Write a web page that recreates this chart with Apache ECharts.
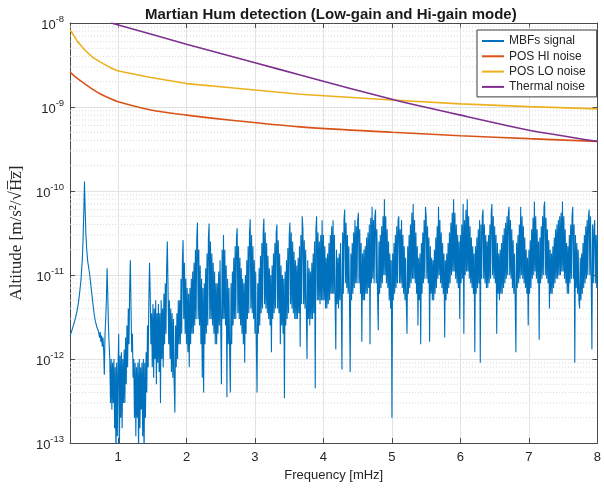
<!DOCTYPE html>
<html><head><meta charset="utf-8">
<script src="https://cdn.jsdelivr.net/npm/echarts@6/dist/echarts.min.js"></script>
<style>html,body{margin:0;padding:0;background:#fff}#c{width:604px;height:488px}</style>
</head><body><div id="c"></div>
<script>
// ---- data ----
// MBFs signal: one value per frequency bin, bins start at 0.30 mHz, step 0.01 mHz (one row = 0.1 mHz)
const sigStart = 0.30;
const sigStep = 0.01;
const mbfSignal = [
  1.9e-12, 2e-12, 2.1e-12, 2.2e-12, 2.4e-12, 2.5e-12, 2.7e-12, 2.9e-12, 3.1e-12, 3.4e-12,
  3.7e-12, 4.1e-12, 4.6e-12, 5.3e-12, 6.2e-12, 7.4e-12, 9e-12, 1.2e-11, 1.6e-11, 2.8e-11,
  5.5e-11, 1.3e-10, 6e-11, 3.2e-11, 2.2e-11, 1.7e-11, 1.4e-11, 1.25e-11, 1.1e-11, 9.5e-12,
  8e-12, 6.8e-12, 5.7e-12, 4.8e-12, 4.1e-12, 3.5e-12, 3.1e-12, 2.8e-12, 2.6e-12, 2.4e-12,
  2.3e-12, 2.2e-12, 2e-12, 1.8e-12, 2.1e-12, 1.6e-12, 1.9e-12, 1.4e-12, 1.8e-12, 1.3e-12,
  6.5e-13, 2e-12, 3e-12, 5e-12, 1.2e-11, 6e-12, 2.5e-12, 1.5e-12, 1e-12, 3e-13,
  1e-12, 2.5e-13, 9e-13, 3e-13, 1e-12, 1.5e-13, 8e-13, 6e-14, 9e-13, 1.2e-13,
  8e-13, 2e-12, 7e-14, 1.1e-12, 2e-13, 1.2e-12, 1.5e-13, 1e-12, 3e-13, 1.3e-12,
  3e-13, 1.8e-12, 5e-13, 2.5e-12, 8e-13, 4e-12, 1.5e-12, 7e-12, 1.5e-11, 4e-12,
  1.2e-12, 2e-12, 6e-13, 1e-12, 2e-13, 9e-13, 1.2e-13, 8e-13, 2e-13, 9e-13,
  7e-14, 1e-12, 1.5e-13, 8e-13, 2.5e-13, 9e-13, 1.2e-13, 1e-12, 6e-14, 9e-13,
  2e-13, 1.2e-12, 4e-13, 2.5e-12, 8e-13, 5e-12, 1.4e-11, 6e-12, 1.5e-12, 3.5e-12,
  8e-13, 4.5e-12, 6e-13, 4e-12, 1e-12, 5e-12, 5e-13, 3.5e-12, 9e-13, 4.5e-12,
  7e-13, 3.5e-12, 3e-13, 5e-12, 1e-12, 4e-12, 8e-13, 6e-12, 1.5e-12, 8e-12,
  2e-12, 1.2e-11, 2.5e-11, 7e-12, 1.5e-12, 5e-12, 1e-12, 4e-12, 7e-13, 3.5e-12,
  6e-13, 3e-12, 5e-13, 2.3e-13, 2.5e-12, 8e-13, 3.5e-12, 1e-12, 5e-12, 1.5e-12,
  5e-12, 1.5e-12, 9e-12, 2e-12, 1.5e-11, 2.6e-11, 3e-12, 1.4e-11, 2e-12, 9e-12,
  1.5e-12, 7e-12, 1.2e-12, 6e-12, 8e-13, 7e-12, 1.5e-12, 9e-12, 2e-12, 1.1e-11,
  2e-12, 1.4e-11, 2.5e-12, 2e-11, 3e-12, 2.8e-11, 4.2e-11, 3e-12, 2e-11, 2.5e-12,
  1.3e-11, 1.5e-12, 9e-12, 6e-13, 7e-12, 4e-13, 8e-12, 1.5e-12, 1.2e-11, 2e-12,
  1.8e-11, 2.5e-12, 2.8e-11, 4.1e-11, 3e-12, 2.5e-11, 3e-12, 1.8e-11, 2.5e-12, 1.4e-11,
  2e-12, 1.1e-11, 1.5e-12, 8e-12, 1.5e-12, 8e-12, 2e-12, 1.1e-11, 2.5e-12, 1.5e-11,
  2.5e-12, 5e-13, 2e-11, 3e-12, 3e-11, 3e-12, 2e-11, 2.5e-12, 1.3e-11, 3.5e-13,
  9e-12, 1.5e-12, 7e-12, 1.2e-12, 4e-13, 8e-12, 1.5e-12, 1.1e-11, 2.5e-12, 1.6e-11,
  3e-12, 2.2e-11, 3e-12, 2.8e-11, 3.6e-11, 3.5e-12, 2.2e-11, 3e-12, 1.6e-11, 2.5e-12,
  1.2e-11, 2e-12, 9e-12, 1.5e-12, 8e-12, 9e-13, 1e-11, 2e-12, 1.5e-11, 3e-12,
  2.2e-11, 3.5e-12, 3.2e-11, 4.6e-11, 4e-12, 3e-11, 3.5e-12, 2.2e-11, 3e-12, 1.5e-11,
  2e-12, 1.1e-11, 1.5e-12, 4e-13, 8e-12, 2e-12, 1.2e-11, 2.5e-12, 1.7e-11, 3.5e-12,
  2.4e-11, 4e-12, 3.3e-11, 4.7e-11, 4.5e-12, 3.2e-11, 4e-12, 2.4e-11, 3.5e-12, 1.7e-11,
  3e-12, 1.2e-11, 2.5e-12, 1e-11, 1.2e-12, 1.3e-11, 3e-12, 1.8e-11, 3.5e-12, 2.4e-11,
  4e-12, 3.2e-11, 4e-11, 4e-12, 2.6e-11, 3.5e-12, 1.8e-11, 1.5e-12, 1.3e-11, 2.5e-12,
  1e-11, 2e-12, 9e-12, 3.4e-13, 1.1e-11, 2.5e-12, 1.5e-11, 3e-12, 2.1e-11, 3.5e-12,
  3e-11, 4.2e-11, 4.5e-12, 3.2e-11, 4e-12, 2.5e-11, 3.5e-12, 1.9e-11, 3e-12, 1.5e-11,
  3e-12, 1.3e-11, 3e-12, 1.6e-11, 3.5e-12, 2.2e-11, 1.4e-12, 3e-11, 4.5e-12, 5e-11,
  3.5e-11, 4.5e-12, 2.6e-11, 4e-12, 2e-11, 3.5e-12, 1e-12, 1.5e-11, 3e-12, 1.2e-11,
  2.5e-12, 1.1e-11, 3e-12, 1.4e-11, 3e-12, 1.8e-11, 3.5e-12, 2.5e-11, 4.5e-13, 3.5e-11,
  5e-11, 5e-12, 3.2e-11, 5e-12, 2.5e-11, 4.5e-12, 3e-11, 5e-12, 4.5e-11, 5e-12,
  3e-11, 5e-12, 2.2e-11, 4e-12, 1.6e-11, 4e-12, 1.8e-11, 4.5e-12, 2.4e-11, 5e-12,
  3e-11, 6e-12, 3.8e-11, 6e-12, 4.5e-11, 6e-12, 3e-11, 5e-12, 1.3e-12, 2e-11,
  4.5e-12, 1.6e-11, 4e-12, 1.8e-11, 5e-12, 2.4e-11, 5e-12, 7.5e-13, 3.2e-11, 6e-12,
  4.5e-11, 6e-11, 8e-12, 4.2e-11, 7e-12, 3e-11, 6e-12, 2.2e-11, 5e-12, 7e-13,
  1.8e-11, 5e-12, 2.4e-11, 6e-12, 3.2e-11, 7e-12, 4.5e-11, 8e-12, 3.8e-11, 8e-12,
  4.5e-11, 5.5e-11, 8e-12, 3.5e-11, 6e-12, 2.4e-11, 1.6e-12, 1.8e-11, 5e-12, 2e-11,
  5e-12, 2.2e-11, 6e-12, 2.8e-11, 6e-12, 3.2e-11, 7e-12, 4e-11, 1.5e-12, 4.8e-11,
  8e-12, 6.5e-11, 9e-12, 4.5e-11, 8e-12, 5e-11, 6e-11, 8e-12, 3.5e-11, 6e-12,
  2.2e-12, 2.5e-11, 6e-12, 3e-11, 7e-12, 3.8e-11, 8e-12, 5e-11, 1e-11, 8e-11,
  1e-11, 5e-11, 8e-12, 3.5e-11, 7e-12, 2.5e-11, 5e-12, 1.8e-11, 4e-12, 1.5e-11,
  2e-13, 1.8e-11, 5e-12, 2.4e-11, 6e-12, 3e-11, 7e-12, 3.8e-11, 8e-12, 4.5e-11,
  5e-11, 8e-12, 3.5e-11, 8e-12, 4.5e-11, 7e-12, 3e-11, 6e-12, 2.2e-11, 5e-12,
  1.6e-11, 4.5e-12, 2e-12, 2.2e-11, 6e-12, 3e-11, 7e-12, 4e-11, 8e-12, 5.5e-11,
  9e-12, 7e-11, 9e-12, 4.5e-11, 8e-12, 3.2e-11, 6e-12, 2.2e-11, 2.5e-12, 1.6e-11,
  5e-12, 1.8e-11, 1.5e-12, 2.4e-11, 6e-12, 3.2e-11, 8e-12, 4.5e-11, 9e-12, 6.5e-11,
  5e-11, 9e-12, 3.8e-11, 8e-12, 2.8e-11, 1.6e-12, 2.2e-11, 6e-12, 1.6e-11, 5e-12,
  1.5e-11, 5e-12, 2e-11, 6e-12, 2.8e-11, 7e-12, 3.8e-11, 9e-12, 6.5e-11, 1e-11,
  4.5e-11, 8e-12, 3.2e-11, 7e-12, 2.4e-11, 6e-12, 1.8e-11, 1.8e-12, 1.5e-11, 5e-12,
  1.8e-11, 6e-12, 2.4e-11, 7e-12, 3.2e-11, 8e-12, 4.2e-11, 1e-11, 5.5e-11, 1.1e-11,
  8e-11, 1.1e-11, 5.5e-11, 9e-12, 4e-11, 8e-12, 3e-11, 7e-12, 2.5e-11, 3e-12,
  3e-11, 8e-12, 4e-11, 9e-12, 7e-11, 2e-12, 4.5e-11, 1e-11, 6e-11, 1.1e-11,
  8e-11, 1.1e-11, 5e-11, 9e-12, 3.8e-11, 8e-12, 2.8e-11, 7e-12, 2.2e-11, 6e-12,
  1.8e-11, 1.2e-12, 2.2e-11, 6e-12, 2.8e-11, 7e-12, 3.5e-11, 8e-12, 4.5e-11, 9e-13,
  4e-11, 9e-12, 5e-11, 6e-11, 9e-12, 4e-11, 8e-12, 3e-11, 7e-12, 2.5e-11,
  7e-12, 3e-11, 8e-12, 4e-11, 9e-12, 5.5e-11, 7e-11, 1e-11, 5e-11, 9e-12,
  3.8e-11, 8e-12, 3e-11, 2e-12, 2.4e-11, 6e-12, 1.8e-11, 5e-12, 2e-11, 6e-12,
  2.4e-11, 6e-12, 3e-11, 7e-12, 3.6e-11, 8e-12, 4.2e-11, 9e-12, 5e-11, 1e-11,
  5.5e-11, 6.5e-11, 1e-11, 4.5e-11, 9e-12, 3.5e-11, 7e-12, 2.6e-11, 6e-12, 1.8e-11,
  5e-12, 1.2e-12, 2.4e-11, 7e-12, 3e-11, 8e-12, 4e-11, 9e-12, 6.5e-11, 1e-11,
  5e-11, 9e-12, 3.8e-11, 8e-12, 2.8e-11, 7e-12, 2e-11, 6e-12, 1.6e-11, 2.5e-12,
  2e-11, 6e-12, 2.6e-11, 7e-12, 3.5e-11, 9e-12, 4.8e-11, 1e-11, 7.5e-11, 1.1e-11,
  5e-11, 9e-12, 3.5e-11, 8e-12, 2.5e-11, 1.7e-12, 2.8e-11, 8e-12, 3.8e-11, 9e-12,
  5e-11, 1e-11, 6.5e-11, 7.5e-11, 1e-11, 4.8e-11, 9e-12, 3.5e-11, 8e-12, 2.6e-11,
  4e-12, 2e-11, 6e-12, 1.8e-11, 6e-12, 2.2e-11, 7e-12, 2.8e-11, 8e-12, 3.5e-11,
  9e-12, 4e-11, 9e-12, 4.5e-11, 1e-11, 5e-11, 1e-11, 5.5e-11, 1.1e-11, 7.5e-11,
  1.1e-11, 5e-11, 9e-12, 3.5e-11, 8e-12, 2.4e-11, 6e-12, 2.2e-11, 6e-12, 3e-11,
  8e-12, 4e-11, 9e-12, 5e-11, 6.5e-11, 9e-12, 4e-11, 9e-13, 3e-11, 7e-12,
  2.4e-11, 6e-12, 2e-11, 5e-12, 4e-12, 1.6e-11, 5e-12, 1.8e-11, 6e-12, 2.4e-11,
  7e-12, 3e-11, 8e-12, 3.8e-11, 9e-12, 4.5e-11, 1e-11, 5e-11, 6e-11, 1e-11,
  5e-11, 9e-12, 1.3e-12, 4e-11, 8e-12, 3.5e-11, 4.5e-11, 8e-12, 3e-11, 7e-12,
  3e-11
];
const hiFreq  = [0.3, 0.4, 0.51, 0.63, 0.75, 0.87, 0.99, 1.48, 2.0, 2.69, 3.66, 5.0, 6.0, 7.0, 8.0];
const hiNoise = [2.6e-9, 2.2e-9, 1.9e-9, 1.62e-9, 1.42e-9, 1.28e-9, 1.16e-9, 9.2e-10, 8e-10, 6.9e-10, 5.8e-10, 5e-10, 4.55e-10, 4.2e-10, 3.9e-10];
const loFreq  = [0.3, 0.41, 0.51, 0.63, 0.75, 0.87, 0.99, 1.48, 2.0, 2.69, 3.66, 5.0, 6.0, 7.0, 8.0];
const loNoise = [8.3e-9, 6e-9, 4.8e-9, 3.9e-9, 3.4e-9, 3e-9, 2.7e-9, 2.25e-9, 1.9e-9, 1.68e-9, 1.42e-9, 1.21e-9, 1.09e-9, 1.01e-9, 9.5e-10];
const thFreq  = [0.9, 2.0, 3.0, 3.66, 5.04, 6.0, 7.0, 8.0];
const thNoise = [1e-8, 5.6e-9, 3.37e-9, 2.4e-9, 1.21e-9, 8e-10, 5.3e-10, 3.9e-10];
const seriesNames = ['MBFs signal', 'POS HI noise', 'POS LO noise', 'Thermal noise'];
const seriesColors = ['#0072BD', '#D95319', '#EDB120', '#7E2F8E'];
const minorMultipliers = [2, 3, 4, 5, 6, 7, 8, 9];
const minorDecades = [-13, -12, -11, -10, -9];
const xRange = [0.3, 8];

// ---- build ----
const pairs = (fs, vs) => fs.map((f, i) => [f, vs[i]]);
const sigData = mbfSignal.map((v, i) => [+(sigStart + i * sigStep).toFixed(2), v]);
const minorValues = [];
minorDecades.forEach(d => minorMultipliers.forEach(m => minorValues.push(m * Math.pow(10, d))));

const font = "'Liberation Sans', Arial, Helvetica, sans-serif";
const serif = "'Liberation Serif', 'DejaVu Serif', 'Times New Roman', serif";
const axisColor = '#4a4a4a';
const textColor = '#262626';

const xBase = {
  type: 'value', min: xRange[0], max: xRange[1], splitNumber: 8,
  axisLine: { show: true, onZero: false, lineStyle: { color: axisColor, width: 1 } },
  axisTick: { show: true, inside: true, length: 5, lineStyle: { color: axisColor } }
};
const yBase = {
  type: 'log', logBase: 10, min: 1e-13, max: 1e-8,
  axisLine: { show: true, onZero: false, lineStyle: { color: axisColor, width: 1 } },
  axisTick: { show: true, inside: true, length: 5, lineStyle: { color: axisColor } }
};

const minorSeries = minorValues.map(v => ({
  type: 'line', data: [[xRange[0], v], [xRange[1], v]], z: 1, silent: true,
  symbol: 'none', showSymbol: false, animation: false,
  lineStyle: { type: [1, 2], color: '#d6d6d6', width: 1 },
  emphasis: { disabled: true }, tooltip: { show: false }
}));

const option = {
  animation: false,
  backgroundColor: '#ffffff',
  title: {
    text: 'Martian Hum detection (Low-gain and Hi-gain mode)',
    left: 140, top: 2,
    textStyle: { fontFamily: font, fontSize: 15, fontWeight: 'bold', color: '#1a1a1a' }
  },
  grid: { left: 69, right: 5, top: 23, bottom: 45 },
  legend: {
    data: seriesNames,
    orient: 'vertical',
    left: 477, top: 30,
    padding: [4, 11, 3, 5],
    itemGap: 1.3,
    itemWidth: 22, itemHeight: 2,
    icon: 'rect',
    backgroundColor: '#ffffff',
    borderColor: '#3a3a3a', borderWidth: 1, borderRadius: 0,
    textStyle: { fontFamily: font, fontSize: 12, color: textColor, lineHeight: 14 }
  },
  xAxis: [
    Object.assign({}, xBase, {
      position: 'bottom',
      name: 'Frequency [mHz]', nameLocation: 'middle', nameGap: 24,
      nameTextStyle: { fontFamily: font, fontSize: 13, color: textColor },
      axisLabel: { showMinLabel: false, margin: 8, fontFamily: font, fontSize: 13, color: textColor,
        formatter: v => (Number.isInteger(v) ? String(v) : '') },
      splitLine: { show: true, lineStyle: { color: '#e2e2e2', width: 1 } }
    }),
    Object.assign({}, xBase, {
      position: 'top',
      axisLabel: { show: false },
      splitLine: { show: false }
    })
  ],
  yAxis: [
    Object.assign({}, yBase, {
      position: 'left',
      name: 'Altitude [m/s\u00B2/\u221AH\u0305z\u0305]', nameLocation: 'middle', nameGap: 40, nameRotate: 90,
      nameTextStyle: { fontFamily: serif, fontSize: 17, color: textColor },
      axisLabel: {
        margin: 6,
        formatter: v => '{b|10}{s|' + Math.round(Math.log10(v)) + '}',
        rich: {
          b: { fontFamily: font, fontSize: 13, color: textColor, lineHeight: 18, verticalAlign: 'bottom' },
          s: { fontFamily: font, fontSize: 9.5, color: textColor, lineHeight: 18, verticalAlign: 'top' }
        }
      },
      splitLine: { show: true, lineStyle: { color: '#e2e2e2', width: 1 } }
    }),
    Object.assign({}, yBase, {
      position: 'right',
      axisLabel: { show: false },
      splitLine: { show: false }
    })
  ],
  series: minorSeries.concat([
    {
      name: seriesNames[0], type: 'line', data: sigData, z: 2,
      symbol: 'none', showSymbol: false, clip: true,
      lineStyle: { color: seriesColors[0], width: 1.1 }, itemStyle: { color: seriesColors[0] },
      emphasis: { disabled: true }
    },
    {
      name: seriesNames[1], type: 'line', data: pairs(hiFreq, hiNoise), z: 3,
      symbol: 'none', showSymbol: false, clip: true, smooth: 0.3,
      lineStyle: { color: seriesColors[1], width: 1.6 }, itemStyle: { color: seriesColors[1] },
      emphasis: { disabled: true }
    },
    {
      name: seriesNames[2], type: 'line', data: pairs(loFreq, loNoise), z: 3,
      symbol: 'none', showSymbol: false, clip: true,
      lineStyle: { color: seriesColors[2], width: 1.6 }, itemStyle: { color: seriesColors[2] },
      emphasis: { disabled: true }
    },
    {
      name: seriesNames[3], type: 'line', data: pairs(thFreq, thNoise), z: 3,
      symbol: 'none', showSymbol: false, clip: true, smooth: 0.2,
      lineStyle: { color: seriesColors[3], width: 1.6 }, itemStyle: { color: seriesColors[3] },
      emphasis: { disabled: true }
    }
  ])
};
const chart = echarts.init(document.getElementById('c'), null, { renderer: 'canvas' });
chart.setOption(option);
</script>
</body></html>
